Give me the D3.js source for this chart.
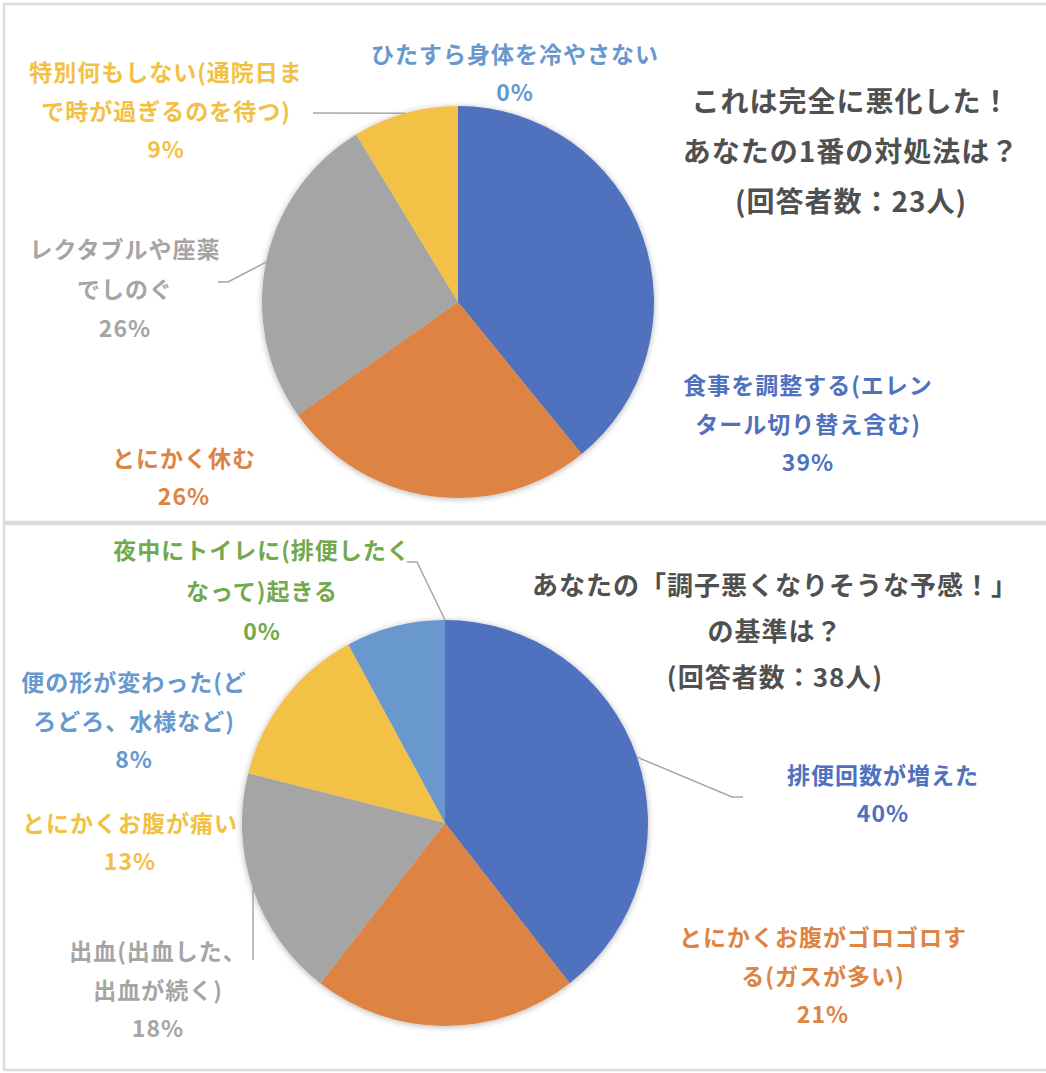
<!DOCTYPE html>
<html>
<head>
<meta charset="utf-8">
<script src="https://cdn.jsdelivr.net/npm/d3@7"></script>
<style>
  body { margin: 0; background: #fff; }
  text { font-family: "Noto Sans CJK JP", "Noto Sans", sans-serif; font-weight: bold; }
</style>
</head>
<body>
<div class="canvas"></div>
<script>
// ---- data ----
const topCategories = ["食事を調整する(エレンタール切り替え含む)", "とにかく休む", "レクタブルや座薬でしのぐ", "特別何もしない(通院日まで時が過ぎるのを待つ)", "ひたすら身体を冷やさない"];
const topCounts = [9, 6, 6, 2, 0];
const topPercents = ["39%", "26%", "26%", "9%", "0%"];
const topTitle = ["これは完全に悪化した！", "あなたの1番の対処法は？", "(回答者数：23人)"];

const botCategories = ["排便回数が増えた", "とにかくお腹がゴロゴロする(ガスが多い)", "出血(出血した、出血が続く)", "とにかくお腹が痛い", "便の形が変わった(どろどろ、水様など)", "夜中にトイレに(排便したくなって)起きる"];
const botCounts = [15, 8, 7, 5, 3, 0];
const botPercents = ["40%", "21%", "18%", "13%", "8%", "0%"];
const botTitle = ["あなたの「調子悪くなりそうな予感！」", "の基準は？", "(回答者数：38人)"];

const colors = ["#4f71be", "#dd8444", "#a5a5a5", "#f2c144", "#6798ce", "#72a84e"];

// ---- label layout (line breaks, centre x, first baseline) ----
const topLabels = [
    {lines: ["食事を調整する(エレン", "タール切り替え含む)"], x: 808, y: 394},
    {lines: ["とにかく休む"], x: 184, y: 467},
    {lines: ["レクタブルや座薬", "でしのぐ"], x: 125, y: 258, gap: 40},
    {lines: ["特別何もしない(通院日ま", "で時が過ぎるのを待つ)"], x: 166, y: 81},
    {lines: ["ひたすら身体を冷やさない"], x: 515, y: 63}
];
const botLabels = [
    {lines: ["排便回数が増えた"], x: 883, y: 784},
    {lines: ["とにかくお腹がゴロゴロす", "る(ガスが多い)"], x: 823, y: 946},
    {lines: ["出血(出血した、", "出血が続く)"], x: 158, y: 960},
    {lines: ["とにかくお腹が痛い"], x: 130, y: 832},
    {lines: ["便の形が変わった(ど", "ろどろ、水様など)"], x: 134, y: 691},
    {lines: ["夜中にトイレに(排便したく", "なって)起きる"], x: 262, y: 559, gap: 41}
];

// leader line elbows, index -> points after the pie edge
const topLeaders = {2: [[228, 282], [218, 282]], 3: [[313, 113]]};
const botLeaders = {0: [[732, 797], [743, 797]], 2: [[253, 960]], 5: [[417, 562], [407, 562]]};

const width = 1046, height = 1073;

const svg = d3.select(".canvas").append("svg")
    .attr("width", width)
    .attr("height", height);

const defs = svg.append("defs");
defs.append("filter").attr("id", "shadow")
    .attr("x", "-20%").attr("y", "-20%").attr("width", "140%").attr("height", "140%")
    .append("feDropShadow")
    .attr("dx", 0).attr("dy", 1)
    .attr("stdDeviation", 3)
    .attr("flood-color", "#000")
    .attr("flood-opacity", 0.3);

// panel frames
svg.append("rect").attr("x", 4).attr("y", 4).attr("width", 1060).attr("height", 518)
    .attr("fill", "none").attr("stroke", "#dcdcdc").attr("stroke-width", 2.5);
svg.append("rect").attr("x", 4).attr("y", 524).attr("width", 1060).attr("height", 546)
    .attr("fill", "none").attr("stroke", "#dcdcdc").attr("stroke-width", 2.5);

const pie = d3.pie().sort(null).value(d => d);

const drawPie = (counts, percents, labels, leaders, title, opt) => {

    const arcs = pie(counts);
    const arc = d3.arc().innerRadius(0).outerRadius(opt.r);

    const graph = svg.append("g")
        .attr("transform", `translate(${opt.cx}, ${opt.cy})`);

    graph.append("g").attr("filter", "url(#shadow)")
        .selectAll("path")
        .data(arcs)
        .enter().append("path")
        .attr("fill", (d, i) => colors[i])
        .attr("d", arc);

    // leader lines
    const line = d3.line();
    Object.keys(leaders).forEach(k => {
        const a = arcs[k];
        const mid = (a.startAngle + a.endAngle) / 2;
        const edge = [opt.cx + opt.r * Math.sin(mid), opt.cy - opt.r * Math.cos(mid)];
        svg.append("path")
            .attr("fill", "none")
            .attr("stroke", "#a6a6a6")
            .attr("stroke-width", 1.5)
            .attr("d", line([edge, ...leaders[k]]));
    });

    // data labels
    labels.forEach((lab, i) => {
        const gap = lab.gap || 39;
        const t = svg.append("text")
            .attr("text-anchor", "middle")
            .attr("fill", colors[i])
            .style("font-size", "23px")
            .style("letter-spacing", "1px");
        lab.lines.concat([percents[i]]).forEach((s, j) => {
            t.append("tspan")
                .attr("x", lab.x)
                .attr("y", lab.y + j * gap - (j === lab.lines.length ? 1 : 0))
                .text(s);
        });
    });

    // title
    const tt = svg.append("text")
        .attr("text-anchor", "middle")
        .attr("fill", "#505050")
        .style("font-size", opt.titleSize + "px")
        .style("letter-spacing", "1px");
    title.forEach((s, j) => {
        tt.append("tspan")
            .attr("x", opt.tx)
            .attr("y", opt.ty + j * opt.tgap)
            .text(s);
    });
};

drawPie(topCounts, topPercents, topLabels, topLeaders, topTitle,
    {cx: 458, cy: 302, r: 196, tx: 851, ty: 112, tgap: 50, titleSize: 28});
drawPie(botCounts, botPercents, botLabels, botLeaders, botTitle,
    {cx: 445, cy: 823, r: 203, tx: 775, ty: 595, tgap: 46, titleSize: 26});
</script>
</body>
</html>
